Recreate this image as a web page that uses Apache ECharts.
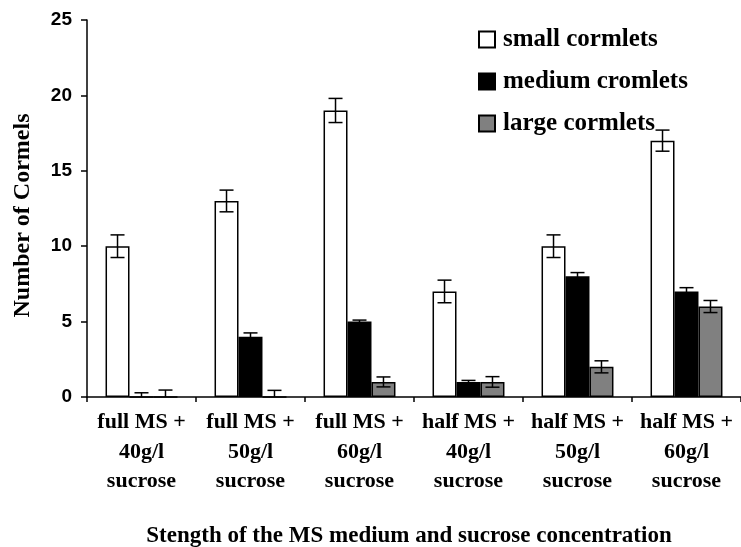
<!DOCTYPE html>
<html>
<head>
<meta charset="utf-8">
<script src="https://cdn.jsdelivr.net/npm/echarts@6/dist/echarts.min.js"></script>
<style>html,body{margin:0;padding:0;background:#fff}#c{width:741px;height:547px}</style>
</head>
<body>
<div id="c"></div>
<script>
const categories = [
  "full MS +\n40g/l\nsucrose",
  "full MS +\n50g/l\nsucrose",
  "full MS +\n60g/l\nsucrose",
  "half MS +\n40g/l\nsucrose",
  "half MS +\n50g/l\nsucrose",
  "half MS +\n60g/l\nsucrose"
];
const seriesNames = ["small cormlets", "medium cromlets", "large cormlets"];
const smallVals = [10, 13, 19, 7, 10, 17];
const smallErr = [0.75, 0.72, 0.8, 0.75, 0.75, 0.7];
const mediumVals = [0, 4, 5, 1, 8, 7];
const mediumErr = [0.28, 0.25, 0.1, 0.1, 0.25, 0.25];
const largeVals = [0, 0, 1, 1, 2, 6];
const largeErr = [0.46, 0.44, 0.33, 0.35, 0.4, 0.4];
const yTicks = [0, 5, 10, 15, 20, 25];

const fills = ["#ffffff", "#000000", "#808080"];
const vals = [smallVals, mediumVals, largeVals];
const errs = [smallErr, mediumErr, largeErr];
const serif = "'Liberation Serif', 'Times New Roman', serif";
const GAP = 0.34;

const chart = echarts.init(document.getElementById('c'), null, {renderer: 'canvas'});

const barSeries = seriesNames.map((n, i) => ({
  name: n,
  type: 'bar',
  data: vals[i],
  barGap: '0%',
  barCategoryGap: (GAP * 100) + '%',
  itemStyle: {color: fills[i], borderColor: '#000', borderWidth: 1.5},
  emphasis: {disabled: true},
  z: 2
}));

const errSeries = seriesNames.map((n, i) => ({
  name: n + ' err',
  type: 'custom',
  data: vals[i].map((v, k) => [k, v, errs[i][k]]),
  z: 5,
  silent: true,
  renderItem: function (params, api) {
    const k = api.value(0), v = api.value(1), e = api.value(2);
    const band = api.size([1, 0])[0];
    const bw = band * (1 - GAP) / 3;
    const cx = api.coord([k, 0])[0] + (i - 1) * bw;
    const yTop = api.coord([k, v + e])[1];
    const yBot = api.coord([k, Math.max(0, v - e)])[1];
    const hw = 7;
    const st = {stroke: '#000', lineWidth: 1.5};
    const children = [
      {type: 'line', shape: {x1: cx, y1: yTop, x2: cx, y2: yBot}, style: st},
      {type: 'line', shape: {x1: cx - hw, y1: yTop, x2: cx + hw, y2: yTop}, style: st}
    ];
    if (v - e > 0) {
      children.push({type: 'line', shape: {x1: cx - hw, y1: yBot, x2: cx + hw, y2: yBot}, style: st});
    }
    return {type: 'group', children: children};
  }
}));

chart.setOption({
  animation: false,
  backgroundColor: '#fff',
  grid: {left: 87, right: 0, top: 20, bottom: 150, outerBoundsMode: 'none', containLabel: false},
  legend: {
    data: seriesNames,
    orient: 'vertical',
    left: 478,
    top: 27,
    padding: 0,
    icon: 'rect',
    itemWidth: 16,
    itemHeight: 16,
    itemGap: 17,
    selectedMode: false,
    textStyle: {fontFamily: serif, fontWeight: 'bold', fontSize: 25, color: '#000', padding: [0, 0, 0, 3]}
  },
  xAxis: {
    type: 'category',
    data: categories,
    boundaryGap: true,
    name: 'Stength of the MS medium and sucrose concentration',
    nameLocation: 'middle',
    nameGap: 128,
    nameTextStyle: {fontFamily: serif, fontWeight: 'bold', fontSize: 23, color: '#000', padding: [0, 10, 0, 0]},
    axisLine: {lineStyle: {color: '#000', width: 1.5}},
    axisTick: {show: true, alignWithLabel: false, length: 5, inside: false, lineStyle: {color: '#000', width: 1.5}},
    axisLabel: {
      interval: 0,
      margin: 11,
      fontFamily: serif,
      fontWeight: 'bold',
      fontSize: 22,
      lineHeight: 29.5,
      color: '#000'
    },
    splitLine: {show: false}
  },
  yAxis: {
    type: 'value',
    min: yTicks[0],
    max: yTicks[yTicks.length - 1],
    interval: 5,
    name: 'Number of Cormels',
    nameLocation: 'middle',
    nameRotate: 90,
    nameGap: 52,
    nameTextStyle: {fontFamily: serif, fontWeight: 'bold', fontSize: 24, color: '#000', padding: [0, 14, 0, 0]},
    axisLine: {show: true, lineStyle: {color: '#000', width: 1.5}},
    axisTick: {show: true, length: 6, lineStyle: {color: '#000', width: 1.5}},
    axisLabel: {
      margin: 15,
      fontFamily: "'Liberation Sans', Arial, sans-serif",
      fontWeight: 'bold',
      fontSize: 19,
      color: '#000'
    },
    splitLine: {show: false}
  },
  series: barSeries.concat(errSeries)
});
</script>
</body>
</html>
